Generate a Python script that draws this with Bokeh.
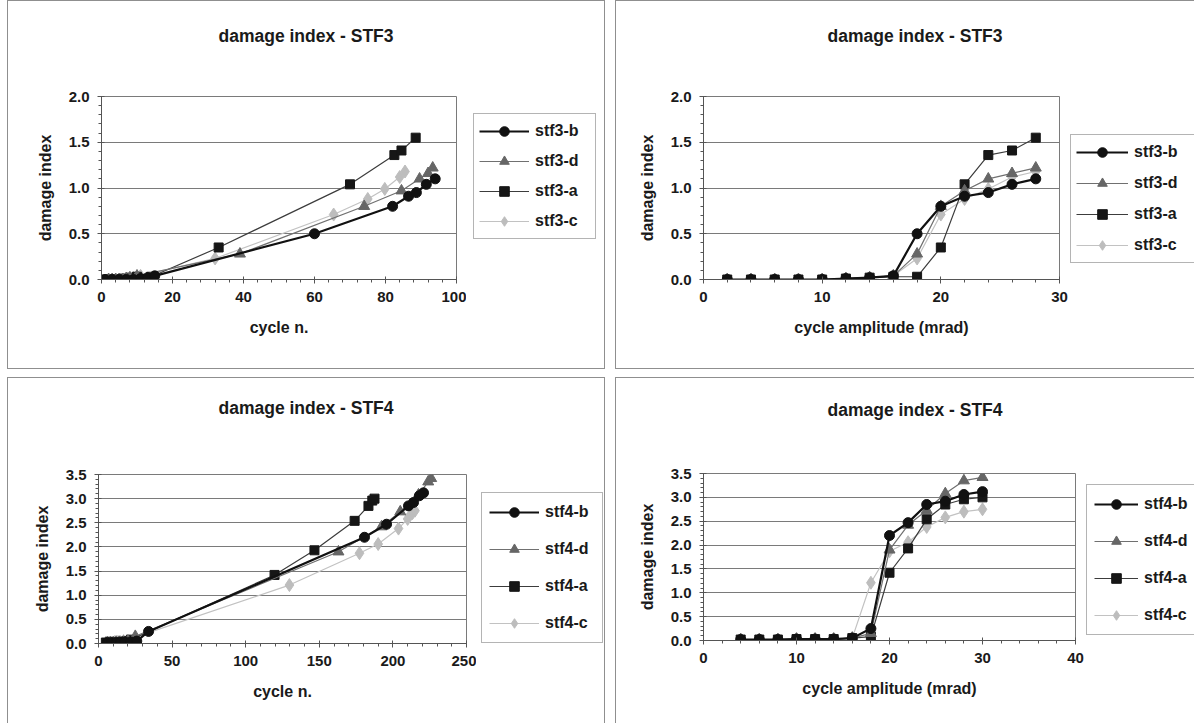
from bokeh.plotting import figure
from bokeh.models import (Legend, LegendItem, Range1d, SingleIntervalTicker, Spacer,
                          NumeralTickFormatter, Title)
from bokeh.layouts import row, column
from bokeh.embed import file_html
from bokeh.resources import INLINE

# ---------------- data ----------------
series_names_stf3 = ["stf3-b", "stf3-d", "stf3-a", "stf3-c"]
series_names_stf4 = ["stf4-b", "stf4-d", "stf4-a", "stf4-c"]

# STF3 - amplitude (mrad)
stf3_amp = [2, 4, 6, 8, 10, 12, 14, 16, 18, 20, 22, 24, 26, 28]
# STF3 - damage index
stf3_b_di = [0.0, 0.0, 0.0, 0.0, 0.0, 0.01, 0.02, 0.04, 0.50, 0.80, 0.91, 0.95, 1.04, 1.10]
stf3_d_di = [0.0, 0.0, 0.0, 0.0, 0.0, 0.01, 0.02, 0.04, 0.28, 0.80, 0.97, 1.10, 1.16, 1.22]
stf3_a_di = [0.0, 0.0, 0.0, 0.0, 0.0, 0.01, 0.02, 0.03, 0.03, 0.35, 1.04, 1.36, 1.41, 1.55]
stf3_c_di = [0.0, 0.0, 0.0, 0.0, 0.0, 0.01, 0.02, 0.04, 0.23, 0.71, 0.88, 0.99, 1.12, 1.18]
# STF3 - cycle number
stf3_b_cycle = [1, 3, 5, 7, 9, 11, 13, 15, 60, 82, 86.5, 88.7, 91.5, 94]
stf3_d_cycle = [2, 3, 4, 5, 6, 7, 8, 10, 39, 74, 84.5, 89.6, 92.0, 93.3]
stf3_a_cycle = [1, 2, 3, 4, 5, 6, 8, 10, 14, 33, 70, 82.5, 84.5, 88.5]
stf3_c_cycle = [2, 3, 4, 5, 6, 7, 9, 11, 32, 65.4, 75, 79.8, 84, 85.5]

# STF4 - amplitude (mrad)
stf4_amp = [4, 6, 8, 10, 12, 14, 16, 18, 20, 22, 24, 26, 28, 30]
# STF4 - damage index
stf4_b_di = [0.02, 0.02, 0.02, 0.03, 0.03, 0.03, 0.05, 0.25, 2.20, 2.47, 2.85, 2.92, 3.06, 3.12]
stf4_d_di = [0.02, 0.02, 0.02, 0.03, 0.03, 0.03, 0.05, 0.15, 1.90, 2.42, 2.73, 3.08, 3.35, 3.42]
stf4_a_di = [0.02, 0.02, 0.02, 0.03, 0.03, 0.03, 0.05, 0.08, 1.42, 1.93, 2.54, 2.85, 2.96, 3.00]
stf4_c_di = [0.02, 0.02, 0.02, 0.03, 0.03, 0.03, 0.05, 1.21, 1.87, 2.06, 2.38, 2.58, 2.70, 2.75]
# STF4 - cycle number
stf4_b_cycle = [6, 9, 12, 15, 18, 22, 26, 34, 180.7, 195.7, 210.6, 214, 218, 220.8]
stf4_d_cycle = [6, 8, 10, 12, 14, 17, 20, 25, 163, 192.3, 205, 217.4, 224, 226]
stf4_a_cycle = [5, 8, 10, 12, 14, 16, 19, 22, 119.6, 146.7, 174, 183.4, 186, 187.5]
stf4_c_cycle = [5, 7, 9, 11, 13, 15, 17, 129.7, 177.3, 190, 203.8, 210, 213.3, 215]

# ---------------- styles ----------------
FONT = "Liberation Sans"
STY = [
    dict(line_color="#111111", line_width=2.2, marker="circle", fill="#111111", size=10),
    dict(line_color="#707070", line_width=1.2, marker="triangle", fill="#666666", size=11),
    dict(line_color="#3c3c3c", line_width=1.2, marker="square", fill="#161616", size=9),
    dict(line_color="#c2c2c2", line_width=1.2, marker="diamond", fill="#bdbdbd", size=13),
]
BORDER = {"border": "1px solid #8f8f8f"}


def make_panel(pw, ph, lb, fw, tb, bb, xmax, xstep, ymax, title, t_gap, t_off,
               xlabel, xs_list, ys_list, names, leg_loc, leg_spacing, leg_label_w,
               leg_pad, leg_glyph_w):
    w1 = lb + fw + 10
    p = figure(width=w1, height=ph, output_backend="svg", toolbar_location=None,
               x_range=Range1d(0, xmax), y_range=Range1d(0, ymax),
               min_border_left=lb, min_border_right=10, min_border_top=tb, min_border_bottom=bb)
    # blank spacer title next to the frame, then the real title above it
    sp = Title(text=" ", standoff=t_gap, text_font_size="1px", text_font=FONT)
    p.add_layout(sp, "above")
    t = Title(text=title, align="left", offset=t_off, standoff=0,
              text_font=FONT, text_font_style="bold", text_font_size="17.5px",
              text_color="#1a1a1a")
    p.add_layout(t, "above")
    p.outline_line_color = "#7a7a7a"
    p.xgrid.visible = False
    p.ygrid.grid_line_color = "#7a7a7a"
    p.ygrid.grid_line_width = 1
    xax = p.below[0]
    yax = p.left[0]
    xax.ticker = SingleIntervalTicker(interval=xstep, num_minor_ticks=5)
    yax.ticker = SingleIntervalTicker(interval=0.5, num_minor_ticks=5)
    yax.formatter = NumeralTickFormatter(format="0.0")
    for ax in (xax, yax):
        ax.axis_line_color = "#555555"
        ax.major_tick_line_color = "#555555"
        ax.minor_tick_line_color = "#555555"
        ax.major_tick_in = 3
        ax.major_tick_out = 4
        ax.minor_tick_in = 0
        ax.minor_tick_out = 3
        ax.major_label_text_font = FONT
        ax.major_label_text_font_style = "bold"
        ax.major_label_text_font_size = "15px"
        ax.major_label_text_color = "#1a1a1a"
        ax.major_label_standoff = 8
        ax.axis_label_text_font = FONT
        ax.axis_label_text_font_style = "bold"
        ax.axis_label_text_font_size = "16px"
        ax.axis_label_text_color = "#1a1a1a"
    xax.axis_label = xlabel
    xax.axis_label_standoff = 14
    yax.axis_label = "damage index"
    yax.axis_label_standoff = 12

    for i in [3, 2, 1, 0]:
        s = STY[i]
        p.line(xs_list[i], ys_list[i], line_color=s["line_color"], line_width=s["line_width"])
        p.scatter(xs_list[i], ys_list[i], marker=s["marker"], size=s["size"],
                  fill_color=s["fill"], line_color=s["fill"])

    # legend figure (separate canvas right of the plot; its frame aligns with the plot's)
    # its ranges lie away from the data so only the legend shows
    w2 = pw - w1
    lf = figure(width=w2, height=ph, output_backend="svg", toolbar_location=None,
                x_range=Range1d(-1000, -999), y_range=Range1d(-1000, -999),
                x_axis_type=None, y_axis_type=None, min_border=0)
    lf.outline_line_color = None
    lf.xgrid.visible = False
    lf.ygrid.visible = False
    items = []
    for i in range(4):
        s = STY[i]
        r1 = lf.line(xs_list[i], ys_list[i], line_color=s["line_color"], line_width=s["line_width"])
        r2 = lf.scatter(xs_list[i], ys_list[i], marker=s["marker"], size=s["size"],
                        fill_color=s["fill"], line_color=s["fill"])
        items.append(LegendItem(label=names[i], renderers=[r1, r2]))
    leg = Legend(items=items, location=leg_loc, border_line_color="#6a6a6a",
                 border_line_width=1, background_fill_color="white", background_fill_alpha=1,
                 label_text_font=FONT, label_text_font_style="bold", label_text_font_size="16px",
                 label_text_color="#1a1a1a", glyph_width=leg_glyph_w, glyph_height=24,
                 label_height=20, label_width=leg_label_w, spacing=leg_spacing,
                 padding=leg_pad, margin=0, label_standoff=6)
    lf.add_layout(leg)
    return row(p, lf, styles=BORDER)


panel1 = make_panel(596, 367, 93, 355, 95, 89, 100, 20, 2.0, "damage index - STF3", 48, 117,
                    "cycle n.",
                    [stf3_b_cycle, stf3_d_cycle, stf3_a_cycle, stf3_c_cycle],
                    [stf3_b_di, stf3_d_di, stf3_a_di, stf3_c_di],
                    series_names_stf3, (7, 40), 6, 55, 5, 50)
panel2 = make_panel(581, 367, 87, 356, 95, 89, 30, 10, 2.0, "damage index - STF3", 48, 124,
                    "cycle amplitude (mrad)",
                    [stf3_amp] * 4,
                    [stf3_b_di, stf3_d_di, stf3_a_di, stf3_c_di],
                    series_names_stf3, (1, 16), 7, 58, 5, 52)
panel3 = make_panel(596, 348, 90, 368, 96, 83, 250, 50, 3.5, "damage index - STF4", 54, 120,
                    "cycle n.",
                    [stf4_b_cycle, stf4_d_cycle, stf4_a_cycle, stf4_c_cycle],
                    [stf4_b_di, stf4_d_di, stf4_a_di, stf4_c_di],
                    series_names_stf4, (5, 0), 13, 50, 7, 50)
panel4 = make_panel(581, 348, 87, 372, 95, 86, 40, 10, 3.5, "damage index - STF4", 51, 124,
                    "cycle amplitude (mrad)",
                    [stf4_amp] * 4,
                    [stf4_b_di, stf4_d_di, stf4_a_di, stf4_c_di],
                    series_names_stf4, (1, 5), 13, 44, 7, 44)

layout = column(
    row(Spacer(width=7), panel1, Spacer(width=10), panel2),
    Spacer(height=8),
    row(Spacer(width=7), panel3, Spacer(width=10), panel4),
)

open("out.html", "w").write(file_html(layout, INLINE))
